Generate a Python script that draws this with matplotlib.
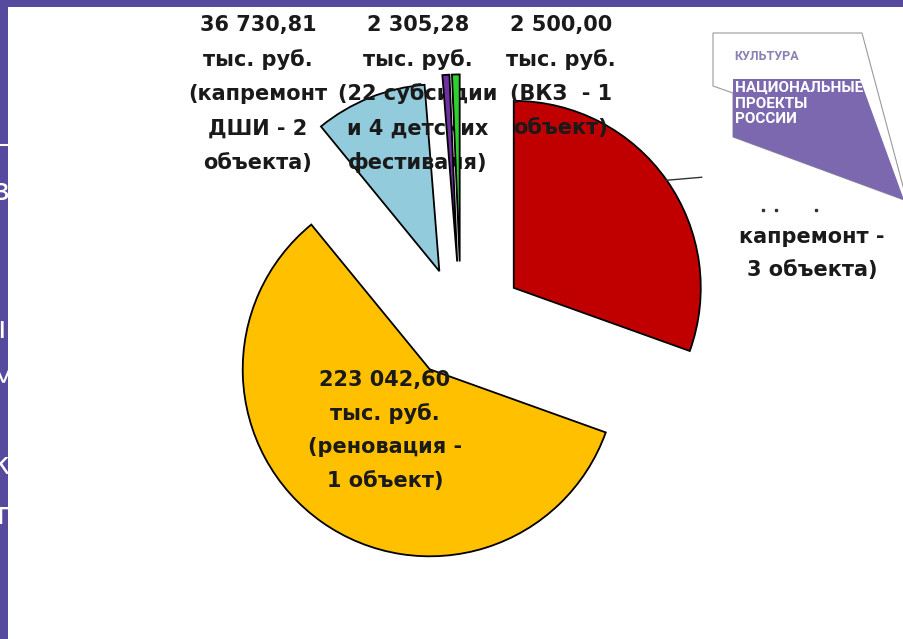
import matplotlib
matplotlib.use("Agg")
import matplotlib.pyplot as plt
from matplotlib.patches import Polygon, Rectangle
import numpy as np

# ---- data (тыс. руб.) ----
# red value is hidden behind the logo in the source; estimated from its angle
values = [116000.0, 223042.60, 36730.81, 2305.28, 2500.00]
colors = ["#C00000", "#FFC000", "#92CBDC", "#7030A0", "#2FD12F"]
explode = [0.345, 0.29, 0.31, 0.34, 0.34]   # fraction of radius

label_blue = ["36 730,81", "тыс. руб.", "(капремонт", "ДШИ - 2", "объекта)"]
label_purple = ["2 305,28", "тыс. руб.", "(22 субсидии", "и 4 детских", "фестиваля)"]
label_green = ["2 500,00", "тыс. руб.", "(ВКЗ  - 1", "объект)"]
label_yellow = ["223 042,60", "тыс. руб.", "(реновация -", "1 объект)"]
label_red = ["капремонт -", "3 объекта)"]

W, H = 904, 639
PURPLE = "#554A9E"

fig = plt.figure(figsize=(W / 100, H / 100), dpi=100)
ax = fig.add_axes([0, 0, 1, 1])


def Y(y):
    # screen pixel row -> data y
    return H - y


# ----------------------------
# pie
# ----------------------------
center = (461, Y(325))
radius = 187
# pie() takes explode in data units, so scale by the radius
wedges, _ = ax.pie(
    values,
    colors=colors,
    explode=[e * radius for e in explode],
    startangle=90,
    counterclock=False,
    radius=radius,
    center=center,
    frame=True,
    wedgeprops=dict(edgecolor="black", linewidth=1.3),
)
ax.set_xlim(0, W)
ax.set_ylim(0, H)
ax.set_aspect("equal")
ax.axis("off")

# thin slices sit above the text
for w in wedges[3:]:
    w.set_zorder(4)

# ----------------------------
# labels
# ----------------------------
txt = dict(fontsize=15, fontweight="bold", color="#1a1a1a",
           family="DejaVu Sans", ha="center", va="center", zorder=3)


def block(lines, x, y0, step):
    for i, s in enumerate(lines):
        ax.text(x, Y(y0 + i * step), s, **txt)


block(label_blue, 258, 25, 34.5)
block(label_purple, 418, 25, 34.5)
block(label_green, 561, 25, 34.5)
block(label_yellow, 385, 380, 33.5)
block(label_red, 812, 237, 33)

# leader line from the red arc (bisector) to its label
rw = wedges[0]
mid = np.deg2rad((rw.theta1 + rw.theta2) / 2)
cx, cy = rw.center
x0, y0 = cx + rw.r * np.cos(mid), cy + rw.r * np.sin(mid)
ax.plot([x0, x0 + 35], [y0, y0 + 3], color="#333333", lw=1.0, zorder=3)

# ----------------------------
# logo
# ----------------------------
outline = Polygon([[713, Y(33)], [862, Y(33)], [904, Y(190)], [904, Y(200)],
                   [733, Y(137)], [733, Y(93)], [713, Y(86)]],
                  closed=True, facecolor="white", edgecolor="#9a9a9a",
                  lw=0.8, zorder=5)
ax.add_patch(outline)
badge = Polygon([[733, Y(79)], [860, Y(79)], [904, Y(200)], [733, Y(137)]],
                closed=True, facecolor="#7B68AE", edgecolor="none", zorder=6)
ax.add_patch(badge)
ax.text(734, Y(56), "КУЛЬТУРА", fontsize=9, fontweight="bold",
        color="#8A80B4", family="Roboto", ha="left", va="center", zorder=7)
for i, s in enumerate(["НАЦИОНАЛЬНЫЕ", "ПРОЕКТЫ", "РОССИИ"]):
    ax.text(735, Y(88 + i * 15.5), s, fontsize=11, fontweight="bold",
            color="white", family="Roboto",
            ha="left", va="center", zorder=7)

# bits of the red label that peek out under the logo
for x in [763, 776, 816]:
    ax.plot(x, Y(210), marker="s", ms=2, color="#333333", zorder=3)

# ----------------------------
# slide frame
# ----------------------------
ax.add_patch(Rectangle((0, 0), 8.5, H, facecolor=PURPLE, edgecolor="none",
                       zorder=8))
ax.add_patch(Rectangle((0, Y(6.5)), W, 6.5, facecolor=PURPLE,
                       edgecolor="none", zorder=8))
ax.plot([0, 8.5], [Y(145), Y(145)], color="white", lw=1.5, zorder=9)
for s, x, y in [("в", -9, 192), ("ı", -3, 330), ("м", -9, 378),
                ("к", -9, 465), ("т", -9, 515)]:
    ax.text(x, Y(y), s, fontsize=22, color="white", family="DejaVu Sans",
            ha="left", va="center", zorder=9)

fig.savefig("out.png", dpi=100, facecolor="white")
